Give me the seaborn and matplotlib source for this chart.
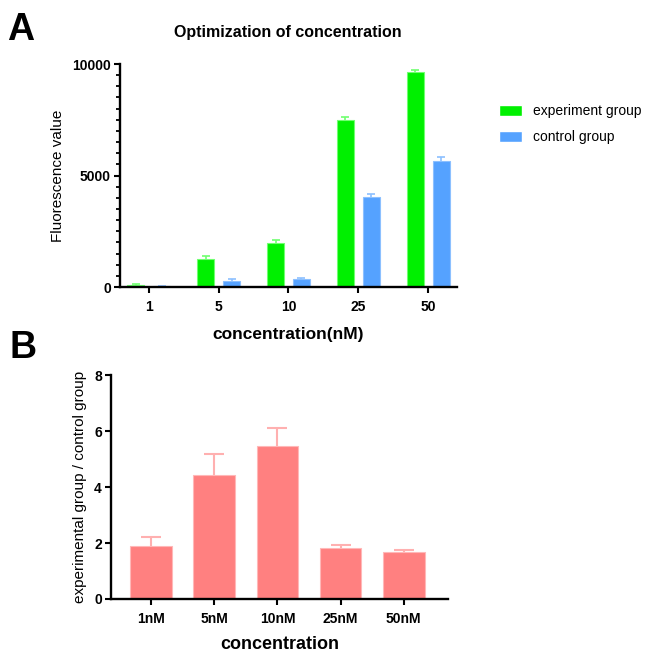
import numpy as np
import pandas as pd
import matplotlib
matplotlib.use("Agg")
import matplotlib.pyplot as plt
from matplotlib.ticker import MultipleLocator
import seaborn as sns

# panel A: fluorescence per concentration
concentrations = ["1", "5", "10", "25", "50"]
groups = ["experiment group", "control group"]
exp_mean = [100, 1260, 1990, 7470, 9630]
exp_err = [30, 115, 110, 140, 110]
ctrl_mean = [50, 285, 370, 4030, 5670]
ctrl_err = [10, 75, 50, 130, 140]

# panel B: ratio experiment / control
ratio_labels = ["1nM", "5nM", "10nM", "25nM", "50nM"]
ratio_mean = [1.89, 4.43, 5.46, 1.82, 1.68]
ratio_err = [0.32, 0.75, 0.65, 0.11, 0.06]

GREEN = "#00F000"
BLUE = "#55A2FF"
PINK = "#FF8080"

sns.set_theme(style="ticks")
plt.rcParams["font.family"] = ["Liberation Sans", "DejaVu Sans"]
plt.rcParams.update({"text.color": "black", "axes.labelcolor": "black",
                     "xtick.color": "black", "ytick.color": "black"})


def add_up_errors(ax, container, err, color, capsize, lw):
    """Draw one-sided (upper) error bars on top of a bar container."""
    xs = [b.get_x() + b.get_width() / 2 for b in container]
    ys = [b.get_height() for b in container]
    _, caps, _ = ax.errorbar(xs, ys, yerr=[np.zeros(len(err)), err], fmt="none",
                             ecolor=color, elinewidth=lw, capsize=capsize,
                             capthick=lw, zorder=1)
    caps[0].set_visible(False)


def style_axes(ax):
    sns.despine(ax=ax)
    for side in ["left", "bottom"]:
        ax.spines[side].set_linewidth(1.7)
        ax.spines[side].set_color("black")
    ax.tick_params(axis="both", which="major", length=4.5, width=1.5,
                   color="black", labelsize=10, labelcolor="black")
    ax.tick_params(axis="x", pad=5)
    ax.tick_params(axis="y", pad=2)
    for lab in ax.get_xticklabels() + ax.get_yticklabels():
        lab.set_fontweight("bold")


fig = plt.figure(figsize=(6.51, 6.52), dpi=100)

# ---- panel A
df_a = pd.DataFrame({
    "concentration": concentrations * 2,
    "group": [groups[0]] * 5 + [groups[1]] * 5,
    "value": exp_mean + ctrl_mean,
})
ax_a = fig.add_axes([0.1843, 0.5598, 0.5177, 0.3420])
sns.barplot(data=df_a, x="concentration", y="value", hue="group",
            palette=[GREEN, BLUE], width=0.74, gap=0.34, errorbar=None,
            saturation=1, ax=ax_a)
for cont, err, col in zip(ax_a.containers, [exp_err, ctrl_err],
                          ["#70FF70", "#8CC0FF"]):
    for b in cont:
        b.set_edgecolor(col)
        b.set_linewidth(0.8)
    add_up_errors(ax_a, cont, err, col, 3, 1.2)
ax_a.set_ylim(0, 10000)
ax_a.set_xlim(-0.41, 4.41)
ax_a.set_yticks([0, 5000, 10000])
ax_a.yaxis.set_minor_locator(MultipleLocator(500))
ax_a.tick_params(axis="y", which="minor", length=3, width=1.3, color="black", left=True)
ax_a.set_ylabel("Fluorescence value", fontsize=11, labelpad=5)
ax_a.set_xlabel("concentration(nM)", fontsize=12.5, fontweight="bold", labelpad=9)
style_axes(ax_a)
handles, labels = ax_a.get_legend_handles_labels()
ax_a.legend(handles, labels, loc="upper left", bbox_to_anchor=(0.767, 0.840),
            bbox_transform=fig.transFigure, frameon=False, fontsize=10,
            handlelength=1.6, handleheight=0.9, handletextpad=0.85,
            labelspacing=0.85, borderpad=0, borderaxespad=0)
fig.text(0.4425, 1 - 32 / 652, "Optimization of concentration", ha="center",
         va="center", fontsize=11.5, fontweight="bold")
fig.text(0.011, 1 - 30 / 652, "A", ha="left", va="center", fontsize=27,
         fontweight="bold")

# ---- panel B
df_b = pd.DataFrame({"concentration": ratio_labels, "ratio": ratio_mean})
ax_b = fig.add_axes([0.1705, 0.0813, 0.5177, 0.3435])
sns.barplot(data=df_b, x="concentration", y="ratio", color=PINK, width=0.66,
            errorbar=None, saturation=1, ax=ax_b)
for b in ax_b.containers[0]:
    b.set_edgecolor("#FFB8B8")
    b.set_linewidth(0.8)
add_up_errors(ax_b, ax_b.containers[0], ratio_err, "#FFB0B0", 7.5, 1.5)
ax_b.set_ylim(0, 8)
ax_b.set_xlim(-0.635, 4.70)
ax_b.set_yticks([0, 2, 4, 6, 8])
ax_b.set_ylabel("experimental group / control group", fontsize=11, labelpad=5)
ax_b.set_xlabel("concentration", fontsize=13, fontweight="bold", labelpad=7)
style_axes(ax_b)
fig.text(0.014, 1 - 348 / 652, "B", ha="left", va="center", fontsize=27,
         fontweight="bold")

fig.savefig("out.png", dpi=100, facecolor="white")
